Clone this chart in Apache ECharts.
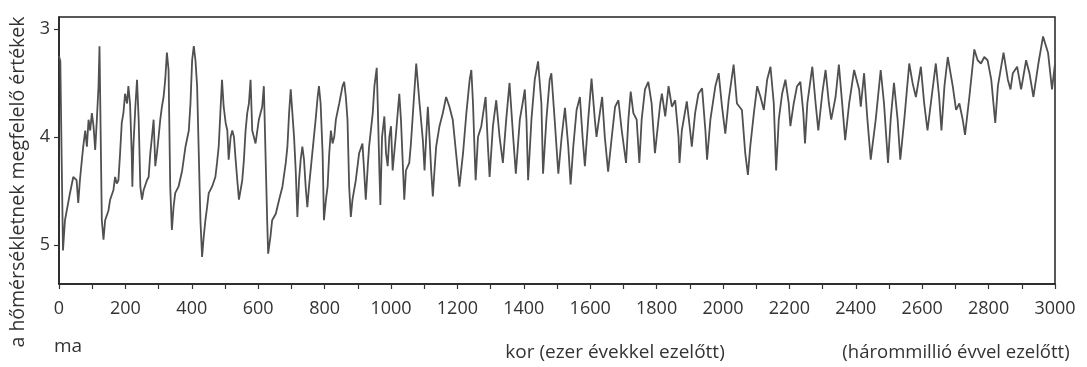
<!DOCTYPE html>
<html>
<head>
<meta charset="utf-8">
<script src="https://cdn.jsdelivr.net/npm/echarts@6/dist/echarts.min.js"></script>
<style>
  html, body { margin: 0; padding: 0; background: #fff; }
  #chart { width: 1087px; height: 367px; }
</style>
</head>
<body>
<div id="chart"></div>
<script>
// Age of each sample, thousands of years before present
const ageKa = [
  0,4,8,12,18,33,43,53,58,63,69,73,
  79,84,89,94,99,104,109,114,119,122,129,134,
  139,149,154,164,169,174,179,184,189,194,199,205,
  209,214,219,221,224,230,235,240,245,250,255,260,
  265,270,275,280,285,288,290,295,300,305,310,315,
  320,325,330,335,340,345,350,360,371,381,391,396,
  401,406,411,416,421,426,431,436,441,446,451,461,
  471,476,481,486,491,496,502,507,511,517,522,527,
  532,537,542,552,557,562,567,572,577,582,592,602,
  612,617,622,627,630,637,642,653,663,673,683,688,
  693,698,708,713,718,723,728,733,738,743,748,753,
  763,773,779,783,788,794,798,804,809,814,819,824,
  829,834,844,854,859,864,869,874,879,884,894,904,
  914,919,924,930,934,945,950,957,960,965,968,973,
  980,985,990,995,1000,1005,1015,1025,1030,1035,1040,1045,
  1055,1060,1066,1076,1086,1096,1101,1106,1111,1116,1121,1126,
  1131,1136,1146,1156,1166,1176,1186,1196,1206,1217,1227,1237,
  1242,1247,1252,1255,1262,1272,1282,1285,1292,1297,1307,1317,
  1327,1337,1347,1357,1368,1376,1388,1398,1403,1408,1413,1423,
  1433,1443,1453,1458,1468,1478,1483,1493,1504,1514,1524,1534,
  1541,1549,1559,1569,1577,1584,1594,1604,1614,1619,1629,1636,
  1644,1654,1665,1675,1685,1695,1708,1715,1722,1730,1740,1748,
  1755,1765,1775,1785,1795,1811,1816,1826,1836,1846,1856,1866,
  1869,1876,1891,1901,1906,1916,1926,1937,1947,1952,1962,1977,
  1987,1997,2007,2017,2032,2042,2057,2067,2075,2082,2093,2103,
  2113,2123,2133,2143,2153,2160,2168,2178,2188,2198,2203,2213,
  2223,2233,2242,2247,2254,2269,2279,2287,2299,2309,2319,2326,
  2339,2349,2359,2368,2380,2395,2410,2415,2425,2435,2445,2460,
  2475,2485,2497,2505,2515,2526,2534,2546,2561,2571,2581,2596,
  2606,2616,2626,2641,2651,2658,2667,2677,2692,2702,2712,2722,
  2729,2742,2757,2767,2777,2787,2797,2808,2820,2828,2845,2858,
  2866,2873,2886,2898,2913,2923,2935,2950,2964,2979,2991,3000
];

// Temperature-proxy value at each age (larger = colder, axis is inverted)
const proxyValue = [
  3.25,3.30,4.20,5.05,4.77,4.52,4.37,4.40,4.61,4.40,4.21,4.09,
  3.94,4.09,3.84,3.94,3.78,3.90,4.12,3.84,3.53,3.16,4.77,4.95,
  4.77,4.68,4.58,4.49,4.37,4.43,4.40,4.15,3.87,3.78,3.60,3.69,
  3.53,3.69,4.15,4.46,4.09,3.72,3.47,3.84,4.46,4.58,4.49,4.49,
  4.40,4.37,4.15,4.00,3.84,4.09,4.27,4.15,4.00,3.84,3.72,3.63,
  3.47,3.22,3.38,4.46,4.86,4.65,4.52,4.46,4.31,4.09,3.94,3.69,
  3.29,3.16,3.29,3.53,4.15,4.77,5.11,4.92,4.77,4.65,4.52,4.46,
  4.37,4.24,4.09,3.78,3.47,3.72,3.87,3.94,4.21,4.00,3.94,4.00,
  4.21,4.40,4.58,4.40,4.21,3.94,3.78,3.69,3.47,3.94,4.06,3.84,
  3.72,3.53,4.15,4.77,5.08,4.92,4.77,4.71,4.58,4.46,4.24,4.09,
  3.78,3.56,4.00,4.31,4.74,4.40,4.21,4.09,4.21,4.46,4.65,4.46,
  4.15,3.84,3.63,3.53,3.69,4.15,4.77,4.58,4.46,4.15,3.94,4.06,
  4.00,3.84,3.69,3.53,3.49,3.63,3.84,4.46,4.74,4.58,4.40,4.15,
  4.06,4.31,4.58,4.27,4.09,3.78,3.53,3.36,3.69,4.31,4.63,4.00,
  3.81,4.15,4.27,4.00,3.90,4.31,3.97,3.60,3.84,4.21,4.58,4.31,
  4.24,4.06,3.78,3.32,3.69,4.03,4.31,4.00,3.72,4.00,4.31,4.55,
  4.31,4.09,3.90,3.78,3.63,3.72,3.84,4.15,4.46,4.15,3.78,3.47,
  3.38,3.69,4.15,4.40,4.00,3.90,3.69,3.63,4.09,4.37,3.90,3.66,
  4.00,4.24,3.84,3.50,4.00,4.34,3.84,3.66,3.56,3.84,4.40,3.84,
  3.47,3.30,3.69,4.34,3.84,3.47,3.41,3.84,4.34,4.00,3.73,4.09,
  4.44,4.09,3.75,3.63,4.00,4.27,3.84,3.46,3.84,4.00,3.78,3.63,
  4.00,4.32,4.00,3.72,3.66,3.94,4.24,3.84,3.58,3.78,3.84,4.24,
  3.84,3.56,3.49,3.69,4.15,3.69,3.60,3.81,3.53,3.72,3.66,4.00,
  4.24,3.94,3.67,3.94,4.09,3.78,3.60,3.55,3.94,4.21,3.84,3.53,
  3.41,3.72,3.97,3.66,3.33,3.69,3.75,4.15,4.35,4.09,3.78,3.53,
  3.63,3.75,3.47,3.35,3.69,4.31,3.84,3.60,3.47,3.69,3.90,3.69,
  3.53,3.49,3.78,4.06,3.69,3.35,3.69,3.94,3.60,3.38,3.69,3.84,
  3.63,3.33,3.69,4.03,3.69,3.38,3.56,3.72,3.41,3.84,4.21,3.84,
  3.38,3.69,4.24,3.84,3.50,3.84,4.21,3.84,3.32,3.50,3.63,3.35,
  3.69,3.94,3.69,3.32,3.63,3.94,3.53,3.26,3.53,3.75,3.69,3.84,
  3.98,3.63,3.19,3.29,3.32,3.26,3.29,3.47,3.87,3.53,3.22,3.47,
  3.56,3.41,3.35,3.56,3.29,3.41,3.63,3.32,3.07,3.22,3.56,3.32
];

// Axis tick labels
const yTickValues = [3, 4, 5];
const xLabelStep = 200;

// Text around the plot
const yAxisTitle = 'a hőmérsékletnek megfelelő értékek';
const presentLabel = 'ma';
const xAxisTitle = 'kor (ezer évekkel ezelőtt)';
const endLabel = '(hárommillió évvel ezelőtt)';

const FONT = '"Open Sans", "Noto Sans", sans-serif';
const INK = '#333';

const seriesData = ageKa.map((a, i) => [a, proxyValue[i]]);

const chart = echarts.init(document.getElementById('chart'), null, { renderer: 'canvas' });

chart.setOption({
  animation: false,
  backgroundColor: '#fff',
  grid: {
    left: 59, right: 32, top: 17, bottom: 83,
    show: true,
    borderColor: '#222',
    borderWidth: 1.5,
    backgroundColor: 'transparent'
  },
  xAxis: {
    type: 'value',
    min: 0,
    max: 3000,
    interval: 100,
    axisLine: { show: true, lineStyle: { color: '#222', width: 1.5 } },
    axisTick: { show: true, inside: false, length: 5, lineStyle: { color: '#333', width: 1.2 } },
    splitLine: { show: false },
    axisLabel: {
      margin: 16,
      color: INK,
      fontFamily: FONT,
      fontSize: 18,
      formatter: v => (v % xLabelStep === 0 ? String(v) : '')
    }
  },
  yAxis: {
    type: 'value',
    inverse: true,
    min: 2.89,
    max: 5.36,
    axisLine: { show: true, lineStyle: { color: '#222', width: 1.5 } },
    axisTick: { show: true, inside: false, length: 5, customValues: yTickValues,
                lineStyle: { color: '#333', width: 1.2 } },
    splitLine: { show: false },
    axisLabel: {
      margin: 9,
      color: INK,
      fontFamily: FONT,
      fontSize: 18,
      customValues: yTickValues
    }
  },
  series: [{
    type: 'line',
    data: seriesData,
    showSymbol: false,
    symbol: 'none',
    lineStyle: { color: '#505050', width: 1.8 },
    z: 3
  }],
  graphic: [
    {
      type: 'text',
      x: 18, y: 182,
      rotation: Math.PI / 2,
      style: {
        text: yAxisTitle,
        fill: INK,
        font: '19.5px ' + FONT,
        align: 'center',
        verticalAlign: 'middle'
      }
    },
    {
      type: 'text',
      x: 54, y: 347,
      style: { text: presentLabel, fill: INK, font: '19px ' + FONT, align: 'left', verticalAlign: 'middle' }
    },
    {
      type: 'text',
      x: 615, y: 353,
      style: { text: xAxisTitle, fill: INK, font: '19px ' + FONT, align: 'center', verticalAlign: 'middle' }
    },
    {
      type: 'text',
      x: 956, y: 353,
      style: { text: endLabel, fill: INK, font: '18.5px ' + FONT, align: 'center', verticalAlign: 'middle' }
    }
  ]
});
</script>
</body>
</html>
